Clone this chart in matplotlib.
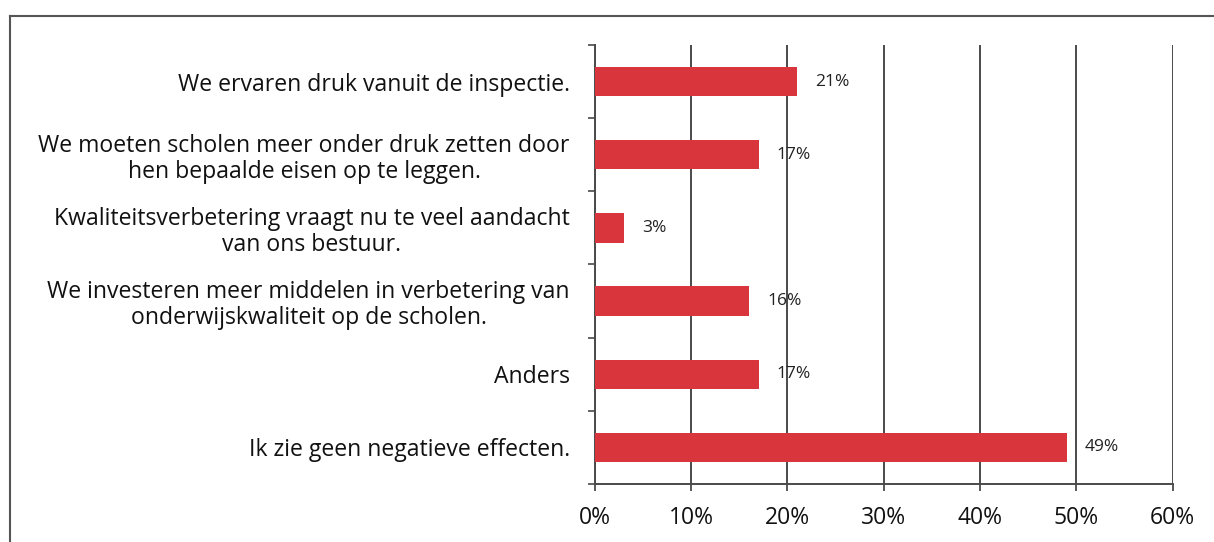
import matplotlib.pyplot as plt
from matplotlib.lines import Line2D

categories = [
    "We ervaren druk vanuit de inspectie.",
    "We moeten scholen meer onder druk zetten door\nhen bepaalde eisen op te leggen.",
    "Kwaliteitsverbetering vraagt nu te veel aandacht\nvan ons bestuur.",
    "We investeren meer middelen in verbetering van\nonderwijskwaliteit op de scholen.",
    "Anders",
    "Ik zie geen negatieve effecten.",
]
values = [21, 17, 3, 16, 17, 49]
xticks = [0, 10, 20, 30, 40, 50, 60]

plt.rcParams['font.family'] = ['Open Sans', 'DejaVu Sans']

fig = plt.figure(figsize=(12.14, 5.42), dpi=100)
ax = fig.add_axes([0.490, 0.107, 0.476, 0.810])

bar_color = '#d8353d'
grid_color = '#4a4a4a'

ypos = list(range(len(categories)))
ax.barh(ypos, values, height=0.4, color=bar_color, zorder=3)
for y, v in zip(ypos, values):
    ax.text(v + 1.9, y, f"{v}%", va='center', ha='left', fontsize=12.5, color='#222222', zorder=4)

ax.set_ylim(len(categories) - 0.5, -0.5)
ax.set_xlim(0, 60)
ax.set_yticks([i - 0.5 for i in range(len(categories) + 1)])
ax.set_yticklabels([])
ax.set_yticks(ypos, minor=True)
ax.set_yticklabels(categories, minor=True, fontsize=16.6, multialignment='center',
                   linespacing=1.12, color='#111111')
ax.tick_params(axis='y', which='minor', length=0, pad=18)
ax.tick_params(axis='y', which='major', length=5, width=1.2, color=grid_color)

ax.set_xticks(xticks)
ax.set_xticklabels([f"{t}%" for t in xticks], fontsize=16.5, color='#111111')
ax.tick_params(axis='x', length=5, width=1.3, color=grid_color, pad=11)

ax.grid(axis='x', color=grid_color, linewidth=1.4, zorder=0)
for s in ['top', 'right']:
    ax.spines[s].set_visible(False)
for s in ['left', 'bottom']:
    ax.spines[s].set_color(grid_color)
    ax.spines[s].set_linewidth(1.4)

# outer frame around the chart area
fig.add_artist(Line2D([0.0085, 0.0085], [0, 0.970], color='#555555', linewidth=1.5))
fig.add_artist(Line2D([0.0085, 1.0], [0.970, 0.970], color='#555555', linewidth=1.5))

fig.savefig('out.png', dpi=100, facecolor='white')
